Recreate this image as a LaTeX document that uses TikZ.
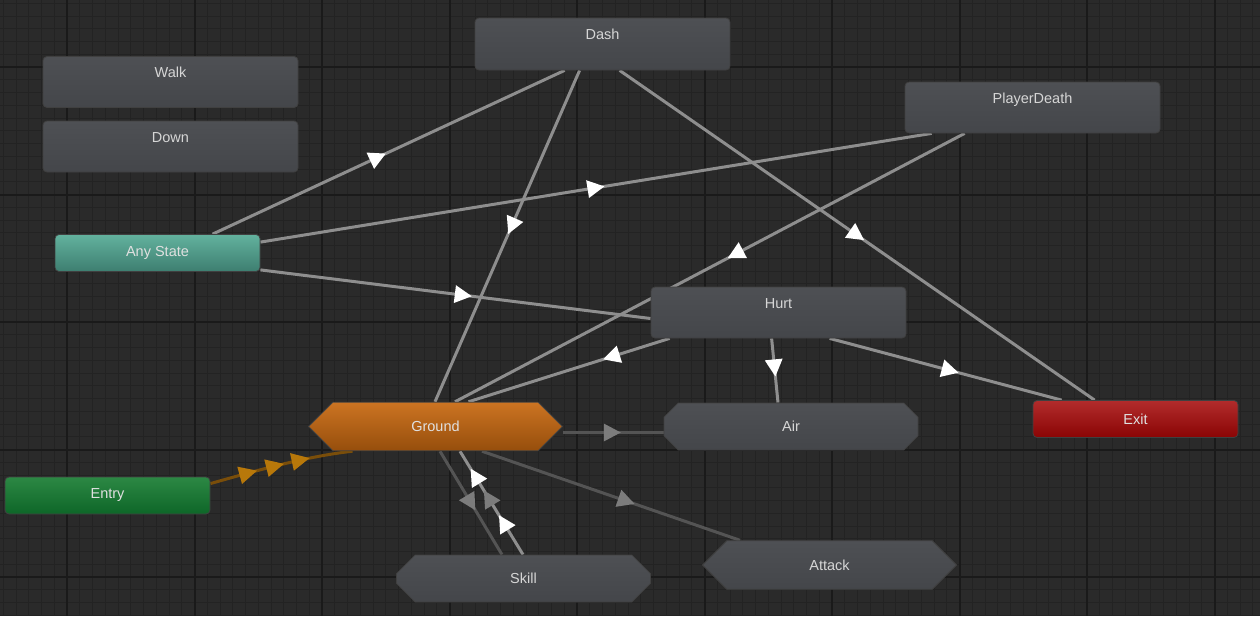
\documentclass[tikz,border=0pt]{standalone}
\usepackage{fontspec}
\setmainfont{Liberation Sans}
\usetikzlibrary{shapes.misc,decorations.markings}
\pgfdeclarelayer{gridlayer}
\pgfdeclarelayer{edgelayer}
\pgfsetlayers{gridlayer,edgelayer,main}
\definecolor{bgc}{HTML}{2A2A2A}
\definecolor{minorc}{HTML}{232323}
\definecolor{majorc}{HTML}{1A1A1A}
\definecolor{linkc}{HTML}{8E8E8E}
\definecolor{dlinkc}{HTML}{545454}
\definecolor{gtipc}{HTML}{7C7C7C}
\definecolor{otipc}{HTML}{B8780A}
\definecolor{olinkc}{HTML}{7A4E0A}
\definecolor{greytop}{HTML}{4E5054}
\definecolor{greybot}{HTML}{44464A}
\definecolor{txtc}{HTML}{D6D6D6}
\newcommand\wtri{\fill[white] (8.5,0) -- (-8.5,9) -- (-8.5,-9) -- cycle;}
\newcommand\gtri{\fill[gtipc] (8.5,0) -- (-8.5,9) -- (-8.5,-9) -- cycle;}
\newcommand\otri{\fill[otipc] (9,0) -- (-9,9) -- (-9,-9) -- cycle;}
\tikzset{
  basenode/.style={inner sep=0pt, font=\fontsize{14.5}{16}\selectfont, text=txtc, draw=black!75, line width=0.8pt},
  graystate/.style={basenode, rectangle, rounded corners=4pt, top color=greytop, bottom color=greybot,
      minimum width=255, minimum height=51, text height=11pt, text depth=20pt},
  hexstate/.style={basenode, chamfered rectangle, chamfered rectangle xsep=20pt, chamfered rectangle ysep=19pt,
      minimum width=254, minimum height=47, top color=greytop, bottom color=greybot},
  specstate/.style={basenode, rectangle, rounded corners=4pt, minimum width=205, minimum height=37, text=white!88!black},
  link/.style={draw=linkc, line width=3pt},
  dlink/.style={draw=dlinkc, line width=3pt},
  wmid/.style={postaction={decorate, decoration={markings, mark=at position #1 with {\wtri}}}},
  gmid/.style={postaction={decorate, decoration={markings, mark=at position #1 with {\gtri}}}},
}
\begin{document}
\begin{tikzpicture}[x=1pt,y=-1pt]
\useasboundingbox (0,0) rectangle (1260,616);
\begin{pgfonlayer}{gridlayer}
  \fill[bgc] (0,0) rectangle (1260,616);
  \foreach \i in {-5,...,93} \draw[minorc, line width=1pt] ({67+12.75*\i},0) -- ({67+12.75*\i},616);
  \foreach \i in {-5,...,43} \draw[minorc, line width=1pt] (0,{67+12.75*\i}) -- (1260,{67+12.75*\i});
  \foreach \i in {-1,...,9} \draw[majorc, line width=2pt] ({67+127.5*\i},0) -- ({67+127.5*\i},616);
  \foreach \i in {0,...,4} \draw[majorc, line width=2pt] (0,{67+127.5*\i}) -- (1260,{67+127.5*\i});
\end{pgfonlayer}

% states
\node[graystate] (walk) at (170.5,82) {Walk};
\node[graystate] (down) at (170.5,146.5) {Down};
\node[graystate, minimum height=52] (dash) at (602.5,44) {Dash};
\node[graystate] (death) at (1032.5,107.5) {PlayerDeath};
\node[graystate] (hurt) at (778.5,312.5) {Hurt};
\node[specstate, top color={rgb,255:red,98;green,178;blue,158}, bottom color={rgb,255:red,62;green,126;blue,112}] (any) at (157.5,253) {Any State};
\node[specstate, top color={rgb,255:red,178;green,44;blue,44}, bottom color={rgb,255:red,138;green,4;blue,4}] (exit) at (1135.5,419) {Exit};
\node[specstate, top color={rgb,255:red,44;green,136;blue,68}, bottom color={rgb,255:red,14;green,102;blue,40}] (entry) at (107.5,495.5) {Entry};
\node[hexstate, top color={rgb,255:red,204;green,116;blue,34}, bottom color={rgb,255:red,150;green,78;blue,12}, text=white!88!black] (ground) at (435.5,426.5) {Ground};
\node[hexstate] (air) at (791,426.5) {Air};
\node[hexstate] (skill) at (523.5,578.5) {Skill};
\node[hexstate] (attack) at (829.5,565) {Attack};

\begin{pgfonlayer}{edgelayer}
  % Any State transitions
  \draw[link, wmid=0.47] ([xshift=158pt]any.north west) -- ([xshift=90pt]dash.south west);
  \draw[link, wmid=0.5] ([yshift=-8pt]any.north east) -- ([xshift=27pt]death.south west);
  \draw[link, wmid=0.52] ([yshift=2pt]any.south east) -- ([yshift=-6pt]hurt.west);
  % Dash
  \draw[link, wmid=0.47] ([xshift=105pt]dash.south west) -- ([xshift=-0.5pt]ground.north);
  \draw[link, wmid=0.5] ([xshift=145pt]dash.south west) -- ([xshift=62pt]exit.north west);
  % PlayerDeath
  \draw[link, wmid=0.45] ([xshift=60pt]death.south west) -- ([xshift=19.5pt]ground.north);
  % Hurt
  \draw[link, wmid=0.29] ([xshift=19pt]hurt.south west) -- ([xshift=33pt]ground.north);
  \draw[link, wmid=0.46] ([xshift=121pt]hurt.south west) -- ([xshift=-13pt]air.north);
  \draw[link, wmid=0.52] ([xshift=179pt]hurt.south west) -- ([xshift=29pt]exit.north west);
  % Ground
  \draw[dlink, gmid=0.49] ([yshift=-6pt]ground.east) -- ([yshift=-6pt]air.west);
  \draw[dlink, gmid=0.56] ([xshift=46.5pt]ground.south) -- ([xshift=-89.5pt]attack.north);
  \draw[dlink, gmid=0.5] ([xshift=4.5pt]ground.south) -- ([xshift=-21.5pt]skill.north);
  \draw[link, postaction={decorate, decoration={markings,
      mark=at position 0.31 with {\wtri}, mark=at position 0.55 with {\gtri}, mark=at position 0.76 with {\wtri}}}]
      ([xshift=-0.5pt]skill.north) -- ([xshift=24.5pt]ground.south);
  % Entry
  \draw[draw=olinkc, line width=3pt, postaction={decorate, decoration={markings,
      mark=at position 0.27 with {\otri}, mark=at position 0.46 with {\otri}, mark=at position 0.64 with {\otri}}}]
      ([yshift=-7pt]entry.north east) .. controls (265,468) and (310,456) .. ([xshift=-83pt]ground.south);
\end{pgfonlayer}
\end{tikzpicture}
\end{document}
